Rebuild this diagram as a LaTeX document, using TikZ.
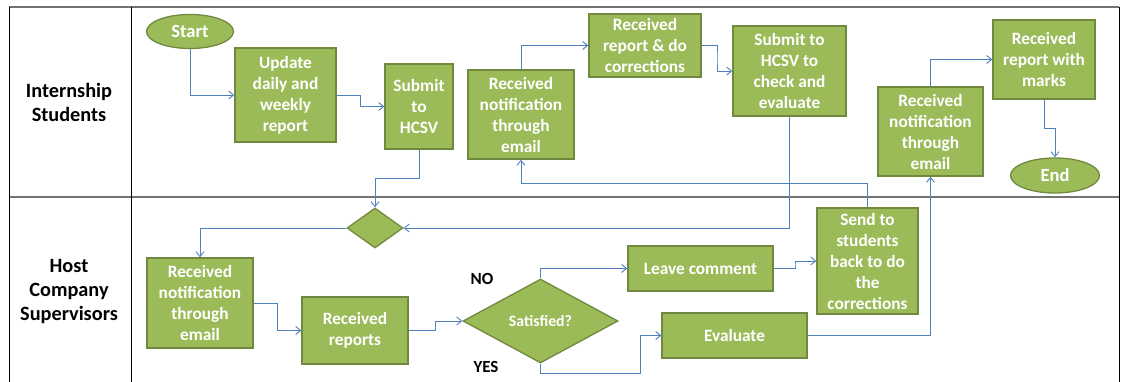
\documentclass[tikz,border=0pt]{standalone}
\usepackage{fontspec}
\setmainfont{Carlito}
\usetikzlibrary{shapes.geometric,arrows.meta,calc}
\definecolor{boxfill}{HTML}{9BBB59}
\definecolor{boxedge}{HTML}{71893F}
\definecolor{linkblue}{HTML}{4F81BD}
\begin{document}
\begin{tikzpicture}[x=1pt,y=-1pt,
  stepbox/.style={draw=boxedge, fill=boxfill, line width=1.3pt, text=white,
    font=\bfseries\fontsize{17.3}{21}\selectfont, align=center, inner sep=0pt},
  terminal/.style={stepbox, ellipse, font=\bfseries\fontsize{18.5}{22}\selectfont},
  decision/.style={stepbox, diamond},
  lanelabel/.style={font=\bfseries\fontsize{20.3}{24}\selectfont, align=center},
  branchlabel/.style={font=\bfseries\fontsize{17}{20}\selectfont},
  flow/.style={draw=linkblue, line width=0.9pt, -{Straight Barb[length=5pt,width=8pt]}},
  hvh/.style={to path={-| ($(\tikztostart)!0.5!(\tikztotarget)$) |- (\tikztotarget)}},
  vhv/.style={to path={|- ($(\tikztostart)!0.5!(\tikztotarget)$) -| (\tikztotarget)}},
  lane/.style={draw=black, line width=0.8pt},
  divider/.style={draw=black!55, line width=1.4pt},
]
\useasboundingbox (0,0) rectangle (1125,382);

% swimlane frame
\draw[divider] (9,7) -- (1119,7);
\draw[divider] (9,197) -- (1119,197);
\draw[lane] (9,7) -- (9,382);
\draw[lane] (131,7) -- (131,382);
\draw[lane] (1119,7) -- (1119,382);

% lane titles
\node[lanelabel] (laneA) at (69,102) {Internship\\Students};
\node[lanelabel] (laneB) at (69,292) {Host\\Company\\Supervisors};

% student lane
\node[terminal, minimum width=87pt, minimum height=34pt] (start) at (190,31.5) {Start};
\node[stepbox, minimum width=101pt, minimum height=94pt] (upd) at (285.5,95) {Update\\daily and\\weekly\\report};
\node[stepbox, minimum width=68pt, minimum height=85pt] (sub) at (419,106.5) {Submit\\to\\HCSV};
\node[stepbox, minimum width=106pt, minimum height=89pt] (stn) at (521,114.5) {Received\\notification\\through\\email};
\node[stepbox, minimum width=112pt, minimum height=63pt] (corr) at (645,45.5) {Received\\report \& do\\corrections};
\node[stepbox, minimum width=113pt, minimum height=90pt] (subchk) at (789.5,71) {Submit to\\HCSV to\\check and\\evaluate};
\node[stepbox, minimum width=105pt, minimum height=89pt] (stn2) at (930.5,131.5) {Received\\notification\\through\\email};
\node[stepbox, minimum width=102pt, minimum height=79pt] (marks) at (1044,59.5) {Received\\report with\\marks};
\node[terminal, minimum width=89pt, minimum height=35pt] (fin) at (1055,175.5) {End};

% supervisor lane
\node[decision, minimum width=56pt, minimum height=40pt] (dia) at (375,228) {};
\node[stepbox, minimum width=106pt, minimum height=90pt] (hcn) at (200,303) {Received\\notification\\through\\email};
\node[stepbox, minimum width=106pt, minimum height=67pt] (rep) at (355,330.5) {Received\\reports};
\node[decision, minimum width=155pt, minimum height=84pt, font=\bfseries\fontsize{15.8}{20}\selectfont] (sat) at (540.5,321) {Satisfied?};
\node[stepbox, minimum width=145pt, minimum height=45pt] (leave) at (700.5,268.5) {Leave comment};
\node[stepbox, minimum width=145pt, minimum height=45pt] (eval) at (734.5,335.5) {Evaluate};
\node[stepbox, minimum width=101pt, minimum height=106pt] (send) at (867.5,261) {Send to\\students\\back to do\\the\\corrections};

\node[branchlabel] (no) at (482,279) {NO};
\node[branchlabel] (yes) at (486,367) {YES};

% connectors
\draw[flow] (start.south) |- (upd.west);
\draw[flow] (upd.east) to[hvh] (sub.west);
\draw[flow] (sub.south) to[vhv] (dia.north);
\draw[flow] (subchk.south) |- (dia.east);
\draw[flow] (dia.west) -| (hcn.north);
\draw[flow] (hcn.east) to[hvh] (rep.west);
\draw[flow] (rep.east) to[hvh] (sat.west);
\draw[flow] (sat.north) |- (leave.west);
\draw[flow] (sat.south) -- ++(0,10) -| ([xshift=-21pt]eval.west) -- (eval.west);
\draw[flow] (leave.east) to[hvh] (send.west);
\draw[flow] (send.north) to[vhv] (stn.south);
\draw[flow] (eval.east) -| (stn2.south);
\draw[flow] (stn.north) |- (corr.west);
\draw[flow] (corr.east) to[hvh] (subchk.west);
\draw[flow] (stn2.north) |- (marks.west);
\draw[flow] (marks.south) to[vhv] (fin.north);
\end{tikzpicture}
\end{document}
